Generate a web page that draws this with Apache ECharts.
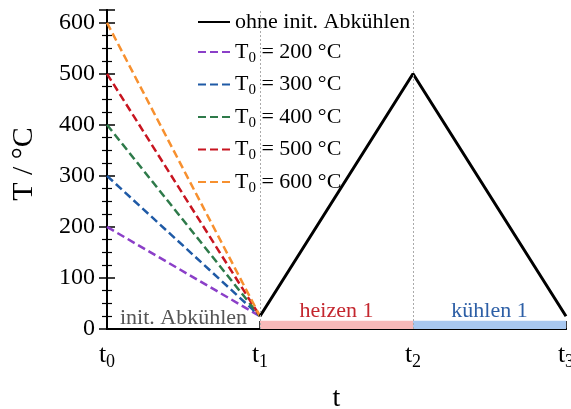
<!DOCTYPE html>
<html>
<head>
<meta charset="utf-8">
<script src="https://cdn.jsdelivr.net/npm/echarts@6/dist/echarts.min.js"></script>
<style>
  html, body { margin: 0; padding: 0; background: #fff; }
  #chart { width: 571px; height: 409px; }
</style>
</head>
<body>
<div id="chart"></div>
<script>
// Time markers t0..t3 on the x axis
const timePoints = [0, 1, 2, 3];
const timeSubscripts = ['0', '1', '2', '3'];

// Initial cooling: start temperatures T0 (°C) falling to the common level at t1
const startTemps = [200, 300, 400, 500, 600];
const coolEndTemp = 25;

// Heating / cooling profile without initial cooling (temperatures at t1, t2, t3)
const profileTemps = [25, 500, 25];

// Phase labels below the curves
const phaseNames = ['init. Abkühlen', 'heizen 1', 'kühlen 1'];

const seriesColors = ['#8b3fc8', '#1f5aa6', '#2e7a4a', '#c81520', '#f7902f'];
const FONT = 'Liberation Serif';

const chart = echarts.init(document.getElementById('chart'), null, { renderer: 'canvas' });

const subRich = {
  base: { fontFamily: FONT, fontSize: 22, color: '#000' },
  sub: { fontFamily: FONT, fontSize: 15, color: '#000', padding: [12, 0, 0, 0] }
};

const coolSeries = startTemps.map((T0, i) => ({
  name: 'T0=' + T0,
  type: 'line',
  symbol: 'none',
  z: 3,
  lineStyle: { color: seriesColors[i], width: 2.5, type: [8, 4] },
  itemStyle: { color: seriesColors[i] },
  data: [[timePoints[0], T0], [timePoints[1], coolEndTemp]]
}));

const profileSeries = {
  name: 'ohne',
  type: 'line',
  symbol: 'none',
  z: 4,
  lineStyle: { color: '#000', width: 3 },
  itemStyle: { color: '#000' },
  data: profileTemps.map((T, i) => [timePoints[i + 1], T]),
  markLine: {
    silent: true,
    symbol: 'none',
    label: { show: false },
    lineStyle: { color: '#aaa', width: 1, type: [2, 2] },
    data: [{ xAxis: timePoints[1] }, { xAxis: timePoints[2] }]
  },
  markArea: {
    silent: true,
    data: [
      [
        { xAxis: timePoints[0], yAxis: 0, itemStyle: { color: 'rgba(0,0,0,0)' },
          label: { show: true, position: 'inside', offset: [0, -7], formatter: phaseNames[0],
                   fontFamily: FONT, fontSize: 22, color: '#555' } },
        { xAxis: timePoints[1], yAxis: 16 }
      ],
      [
        { xAxis: timePoints[1], yAxis: 0, itemStyle: { color: '#f7b9b9' },
          label: { show: true, position: 'top', distance: -1, formatter: phaseNames[1],
                   fontFamily: FONT, fontSize: 22, color: '#c4262e' } },
        { xAxis: timePoints[2], yAxis: 16 }
      ],
      [
        { xAxis: timePoints[2], yAxis: 0, itemStyle: { color: '#a8c8f0' },
          label: { show: true, position: 'top', distance: -1, formatter: phaseNames[2],
                   fontFamily: FONT, fontSize: 22, color: '#2d5fa6' } },
        { xAxis: timePoints[3], yAxis: 16 }
      ]
    ]
  }
};

const legendNames = ['ohne'].concat(startTemps.map(T0 => 'T0=' + T0));

const option = {
  animation: false,
  backgroundColor: '#fff',
  grid: { left: 107, right: 5, top: 10, bottom: 80, containLabel: false, outerBoundsMode: 'none' },
  legend: {
    data: legendNames,
    orient: 'vertical',
    left: 192,
    top: 6,
    itemWidth: 32,
    itemHeight: 14,
    itemGap: 8,
    itemStyle: { opacity: 0 },
    textStyle: { fontFamily: FONT, fontSize: 22, color: '#000', rich: subRich },
    formatter: function (name) {
      if (name === 'ohne') return '{base|ohne init. Abkühlen}';
      const T0 = name.split('=')[1];
      return '{base|T}{sub|0}{base| = ' + T0 + ' °C}';
    }
  },
  xAxis: [
    {
      type: 'value',
      min: 0, max: 3, interval: 1,
      name: 't',
      nameLocation: 'middle',
      nameGap: 56,
      nameTextStyle: { fontFamily: FONT, fontSize: 28, color: '#000' },
      axisLine: { show: true, lineStyle: { color: '#000', width: 2 } },
      axisTick: { show: true, inside: true, length: 8, lineStyle: { color: '#000', width: 1.5 } },
      splitLine: { show: false },
      axisLabel: {
        margin: 10,
        formatter: function (v) {
          return '{t|t}{s|' + timeSubscripts[Math.round(v)] + '}';
        },
        rich: {
          t: { fontFamily: FONT, fontSize: 26, color: '#000' },
          s: { fontFamily: FONT, fontSize: 18, color: '#000', padding: [14, 0, 0, 0] }
        }
      }
    },
    {
      type: 'value', position: 'top',
      min: 0, max: 3, interval: 1,
      axisLine: { show: true, lineStyle: { color: '#000', width: 2 } },
      axisTick: { show: false },
      axisLabel: { show: false },
      splitLine: { show: false }
    }
  ],
  yAxis: [
    {
      type: 'value',
      min: 0, max: 625, interval: 100,
      name: 'T / °C',
      nameLocation: 'middle',
      nameRotate: 90,
      nameGap: 68,
      nameTextStyle: { fontFamily: FONT, fontSize: 30, color: '#000', padding: [0, 0, 0, 11] },
      axisLine: { show: true, lineStyle: { color: '#000', width: 2 } },
      axisTick: { show: true, inside: true, length: 8, lineStyle: { color: '#000', width: 1.5 } },
      minorTick: { show: true, splitNumber: 4, length: 5, lineStyle: { color: '#000', width: 1.2 } },
      splitLine: { show: false },
      axisLabel: { margin: 12, fontFamily: FONT, fontSize: 24, color: '#000' }
    },
    {
      type: 'value', position: 'right',
      min: 0, max: 625, interval: 100,
      axisLine: { show: true, lineStyle: { color: '#000', width: 2 } },
      axisTick: { show: true, inside: true, length: 8, lineStyle: { color: '#000', width: 1.5 } },
      minorTick: { show: true, splitNumber: 4, length: 5, lineStyle: { color: '#000', width: 1.2 } },
      splitLine: { show: false },
      axisLabel: { show: false }
    }
  ],
  series: [profileSeries].concat(coolSeries)
};

chart.setOption(option);
</script>
</body>
</html>
